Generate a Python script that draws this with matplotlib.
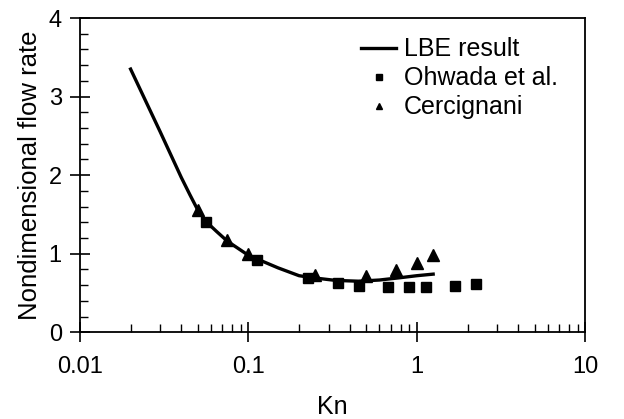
import matplotlib as mpl
import matplotlib.pyplot as plt
from matplotlib.ticker import LogLocator, MultipleLocator, FixedLocator, FixedFormatter

plt.rcParams['font.family'] = ['Liberation Sans', 'DejaVu Sans']

# LBE result (solid line)
lbe_kn = [0.02, 0.03, 0.04, 0.045, 0.05, 0.056, 0.065, 0.075, 0.1, 0.15, 0.2, 0.25, 0.33, 0.45, 0.6, 0.8, 1.0, 1.25]
lbe_q = [3.35, 2.55, 1.97, 1.75, 1.56, 1.41, 1.28, 1.16, 0.98, 0.82, 0.72, 0.69, 0.66, 0.65, 0.665, 0.695, 0.72, 0.74]

# Ohwada et al. (squares)
ohwada_kn = [0.0564, 0.1128, 0.2257, 0.3385, 0.4514, 0.677, 0.9027, 1.128, 1.693, 2.257]
ohwada_q = [1.405, 0.926, 0.69, 0.628, 0.595, 0.577, 0.577, 0.577, 0.595, 0.61]

# Cercignani (triangles)
cerc_kn = [0.05, 0.075, 0.1, 0.25, 0.5, 0.75, 1.0, 1.25]
cerc_q = [1.55, 1.17, 0.99, 0.726, 0.713, 0.79, 0.88, 0.98]

fig = plt.figure(figsize=(6.24, 4.19), dpi=100)
ax = fig.add_axes([0.128, 0.207, 0.81, 0.75])

ax.plot(lbe_kn, lbe_q, color="black", lw=2.4, label="LBE result")
ax.plot(ohwada_kn, ohwada_q, ls="none", marker="s", ms=7, color="black", label="Ohwada et al.")
ax.plot(cerc_kn, cerc_q, ls="none", marker="^", ms=8, color="black", label="Cercignani")

ax.set_xscale("log")
ax.set_xlim(0.01, 10)
ax.set_ylim(0, 4)
ax.xaxis.set_major_locator(FixedLocator([0.01, 0.1, 1, 10]))
ax.xaxis.set_major_formatter(FixedFormatter(["0.01", "0.1", "1", "10"]))
ax.xaxis.set_minor_locator(LogLocator(base=10, subs=range(2, 10)))
ax.xaxis.set_minor_formatter(mpl.ticker.NullFormatter())
ax.yaxis.set_major_locator(MultipleLocator(1))
ax.yaxis.set_minor_locator(MultipleLocator(0.2))

ax.tick_params(which="major", direction="inout", length=14, width=1.2, labelsize=17, pad=6)
ax.tick_params(which="minor", direction="in", length=6, width=1.0)
ax.tick_params(axis="x", which="major", pad=10)
for s in ax.spines.values():
    s.set_linewidth(1.3)

ax.set_xlabel("Kn", fontsize=18, labelpad=12)
ax.set_ylabel("Nondimensional flow rate", fontsize=18.5, labelpad=5)

ax.legend(loc="upper right", bbox_to_anchor=(0.99, 1.01), frameon=False, fontsize=18,
          handlelength=1.4, handletextpad=0.3, markerscale=0.6, labelspacing=0.2)

plt.savefig("out.png", dpi=100)
